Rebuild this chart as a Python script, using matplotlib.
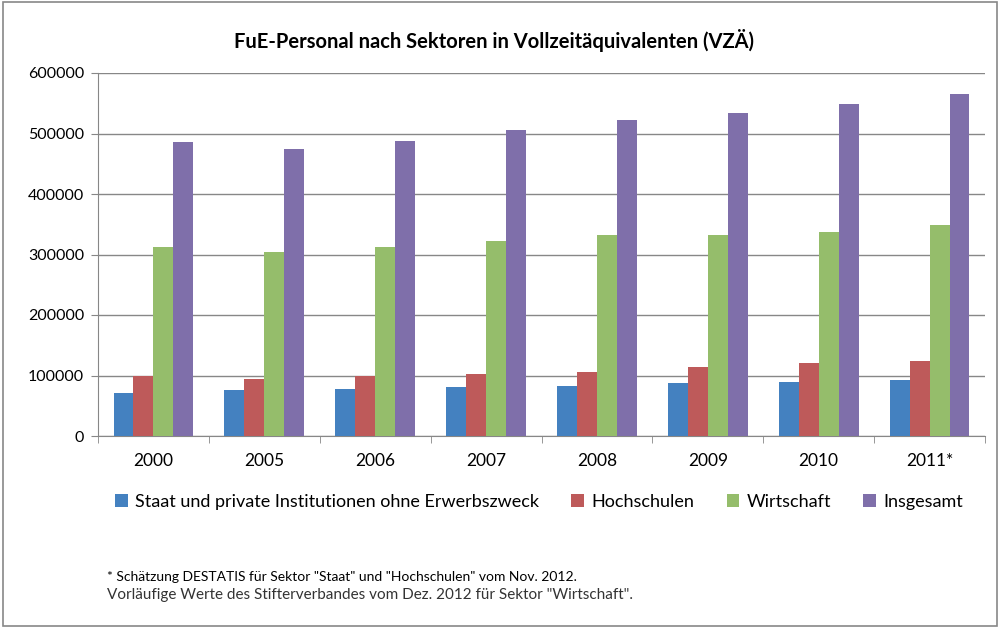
#!/usr/bin/env python3
"""FuE-Personal nach Sektoren - grouped bar chart"""
import matplotlib
matplotlib.use('Agg')
import matplotlib.pyplot as plt
import numpy as np
from matplotlib.patches import Rectangle, Patch

years = ['2000', '2005', '2006', '2007', '2008', '2009', '2010', '2011*']
staat = [71500, 75900, 77600, 80900, 82500, 87500, 89100, 92400]
hochschulen = [99600, 94000, 98500, 102300, 105600, 113900, 120500, 123800]
wirtschaft = [311900, 303600, 311900, 321800, 331700, 331700, 336600, 348200]
insgesamt = [485700, 475200, 487300, 506600, 523100, 533600, 548400, 566000]

series_names = ['Staat und private Institutionen ohne Erwerbszweck',
                'Hochschulen', 'Wirtschaft', 'Insgesamt']
colors = ['#4481C0', '#BE5A5A', '#95BD6B', '#7F6FAA']

plt.rcParams['font.family'] = ['Lato', 'DejaVu Sans']

fig = plt.figure(figsize=(10, 6.28), dpi=100)
ax = fig.add_axes([0.098, 1 - 436 / 628, 0.887, (436 - 73) / 628])

x = np.arange(len(years))
w = 0.18
for i, vals in enumerate([staat, hochschulen, wirtschaft, insgesamt]):
    ax.bar(x + (i - 1.5) * w, vals, width=w, color=colors[i], zorder=3)

ax.set_xlim(-0.5, len(years) - 0.5)
ax.set_ylim(0, 600000)
ax.set_yticks(np.arange(0, 600001, 100000))
ax.set_yticklabels([str(v) for v in range(0, 600001, 100000)], fontsize=11.5)
ax.set_xticks(x)
ax.set_xticklabels(years, fontsize=12.5)
ax.set_xticks(np.arange(-0.5, len(years), 1), minor=True)
ax.tick_params(axis='x', which='major', length=0, pad=12)
ax.tick_params(axis='x', which='minor', length=5, color='#878787', direction='out')
ax.tick_params(axis='y', length=5, color='#878787', pad=5)
ax.grid(True, axis='y', color='#878787', linewidth=1, zorder=0)
for side in ['top', 'right']:
    ax.spines[side].set_visible(False)
for side in ['left', 'bottom']:
    ax.spines[side].set_color('#878787')

fig.text(0.494, 1 - 40 / 628, 'FuE-Personal nach Sektoren in Vollzeitäquivalenten (VZÄ)',
         ha='center', va='center', fontsize=14.5, fontweight='bold')

handles = [Patch(facecolor=c) for c in colors]
fig.legend(handles, series_names, loc='center', bbox_to_anchor=(0.539, 1 - 502 / 628),
           ncol=4, frameon=False, fontsize=13, handlelength=0.7, handleheight=0.7,
           handletextpad=0.4, columnspacing=1.8)

fig.text(0.107, 1 - 577 / 628,
         '* Schätzung DESTATIS für Sektor "Staat" und "Hochschulen" vom Nov. 2012.',
         ha='left', va='center', fontsize=10)
fig.text(0.107, 1 - 595 / 628,
         'Vorläufige Werte des Stifterverbandes vom Dez. 2012 für Sektor "Wirtschaft".',
         ha='left', va='center', fontsize=11, color='#333333')

fig.patches.append(Rectangle((0.003, 0.003), 0.994, 0.994, transform=fig.transFigure,
                             fill=False, edgecolor='#888888', linewidth=1.2))

plt.savefig('out.png', dpi=100)
plt.close()
